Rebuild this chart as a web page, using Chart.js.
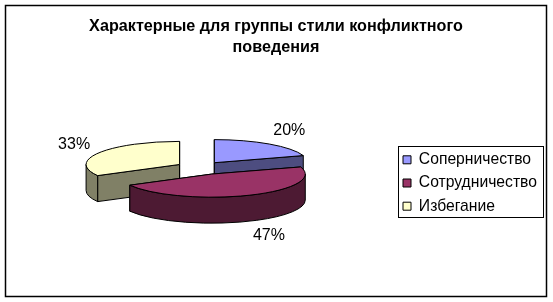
<!DOCTYPE html>
<html>
<head>
<meta charset="utf-8">
<script src="https://cdn.jsdelivr.net/npm/chart.js@4/dist/chart.umd.min.js"></script>
<style>
html, body { margin: 0; padding: 0; background: #fff; }
#wrap { width: 553px; height: 302px; }
</style>
</head>
<body>
<div id="wrap"><canvas id="miGrafico"></canvas></div>
<script>
var titulo = ['Характерные для группы стили конфликтного', 'поведения'];
var categorias = ['Соперничество', 'Сотрудничество', 'Избегание'];
var valores = [20, 47, 33];

var coloresTapa = ['#9999FF', '#993366', '#FFFFCC'];
var coloresLado = ['#4D4D80', '#4D1A33', '#808066'];
var separacion = [24, 29, 24];
var ordenDibujo = [2, 0, 1];
var desplazaEtiqueta = [[20, -13], [20, 14], [-25, -8]];

var fuente = '"Liberation Sans", Arial, sans-serif';
var aplastado = 0.247;   // ry / rx de la elipse
var profundidad = 26;
var centroY = 167.5;
var bajarLeyenda = 32;
var leyendaX = 395.5;
var separaFilas = 7.5;

// Punto del borde de la elipse para un angulo del arco
function puntoBorde(c, r, ang) {
  return [c.x + Math.cos(ang) * r, c.y + Math.sin(ang) * r * aplastado];
}

function centroPorcion(arco) {
  var medio = (arco.startAngle + arco.endAngle) / 2;
  var sep = arco.options.offset;
  return {
    x: arco.x + Math.cos(medio) * sep,
    y: centroY + Math.sin(medio) * sep * aplastado
  };
}

function cara(ctx, c, p, color) {
  ctx.beginPath();
  ctx.moveTo(c.x, c.y);
  ctx.lineTo(p[0], p[1]);
  ctx.lineTo(p[0], p[1] + profundidad);
  ctx.lineTo(c.x, c.y + profundidad);
  ctx.closePath();
  ctx.fillStyle = color;
  ctx.fill();
  ctx.stroke();
}

function dibujarPorcion(ctx, arco, i) {
  var c = centroPorcion(arco);
  var r = arco.outerRadius;
  var ry = r * aplastado;
  var ini = arco.startAngle;
  var fin = arco.endAngle;
  ctx.strokeStyle = '#000';
  ctx.lineWidth = 1;

  cara(ctx, c, puntoBorde(c, r, ini), coloresLado[i]);
  cara(ctx, c, puntoBorde(c, r, fin), coloresLado[i]);

  // Pared curva: solo la mitad delantera de la elipse
  var tramos = [[ini, fin], [ini - Math.PI * 2, fin - Math.PI * 2]];
  tramos.forEach(function (t) {
    var a = Math.max(t[0], 0);
    var b = Math.min(t[1], Math.PI);
    if (b <= a) return;
    ctx.beginPath();
    ctx.ellipse(c.x, c.y, r, ry, 0, a, b);
    ctx.ellipse(c.x, c.y + profundidad, r, ry, 0, b, a, true);
    ctx.closePath();
    ctx.fillStyle = coloresLado[i];
    ctx.fill();
    ctx.stroke();
  });

  // Tapa
  ctx.beginPath();
  ctx.moveTo(c.x, c.y);
  ctx.ellipse(c.x, c.y, r, ry, 0, ini, fin);
  ctx.closePath();
  ctx.fillStyle = arco.options.backgroundColor;
  ctx.fill();
  ctx.stroke();
}

var pastel3d = {
  id: 'pastel3d',
  afterLayout: function (chart) {
    var ley = chart.legend;
    var ancho = ley.right - ley.left;
    ley.top += bajarLeyenda;
    ley.bottom += bajarLeyenda;
    ley.left = leyendaX;
    ley.right = leyendaX + ancho;
  },
  beforeDatasetDraw: function (chart, args) {
    var arcos = chart.getDatasetMeta(args.index).data;
    var ctx = chart.ctx;
    ctx.save();
    ordenDibujo.forEach(function (i) {
      dibujarPorcion(ctx, arcos[i], i);
    });
    ctx.restore();
    return false;
  },
  afterDraw: function (chart) {
    var ctx = chart.ctx;
    var arcos = chart.getDatasetMeta(0).data;
    ctx.save();

    // Etiquetas de porcentaje
    ctx.font = '16px ' + fuente;
    ctx.fillStyle = '#000';
    ctx.textAlign = 'center';
    ctx.textBaseline = 'middle';
    arcos.forEach(function (arco, i) {
      var c = centroPorcion(arco);
      var medio = (arco.startAngle + arco.endAngle) / 2;
      var p = puntoBorde(c, arco.outerRadius, medio);
      var extra = Math.sin(medio) > 0 ? profundidad : 0;
      ctx.fillText(valores[i] + '%', p[0] + desplazaEtiqueta[i][0], p[1] + extra + desplazaEtiqueta[i][1]);
    });

    // Marco de la leyenda
    var ley = chart.legend;
    var cajas = ley.legendHitBoxes;
    var ultima = cajas[cajas.length - 1];
    ctx.strokeStyle = '#000';
    ctx.lineWidth = 1;
    ctx.strokeRect(Math.round(cajas[0].left - 5) + 0.5, Math.round(cajas[0].top - 6) + 0.5,
      145, Math.round(ultima.top + ultima.height - cajas[0].top + 9));

    // Marco exterior
    ctx.lineWidth = 1.5;
    ctx.strokeRect(5.5, 5.5, 541, 291);
    ctx.restore();
  }
};

var canvas = document.getElementById('miGrafico');
var grafico = new Chart(canvas, {
  type: 'pie',
  data: {
    labels: categorias,
    datasets: [{
      data: valores,
      backgroundColor: coloresTapa,
      borderColor: '#000',
      borderWidth: 1,
      offset: separacion
    }]
  },
  options: {
    responsive: true,
    maintainAspectRatio: false,
    animation: false,
    radius: 93.5,
    events: [],
    layout: { padding: { left: 6, right: 7, top: 0, bottom: 0 } },
    plugins: {
      tooltip: { enabled: false },
      title: {
        display: true,
        text: titulo,
        color: '#000',
        font: { family: fuente, size: 16.2, weight: 'bold', lineHeight: 1.3 },
        padding: { top: 16, bottom: 9 }
      },
      legend: {
        position: 'right',
        labels: {
          color: '#000',
          boxWidth: 8,
          boxHeight: 8,
          padding: separaFilas,
          font: { family: fuente, size: 15.7 }
        }
      }
    }
  },
  plugins: [pastel3d]
});
</script>
</body>
</html>
